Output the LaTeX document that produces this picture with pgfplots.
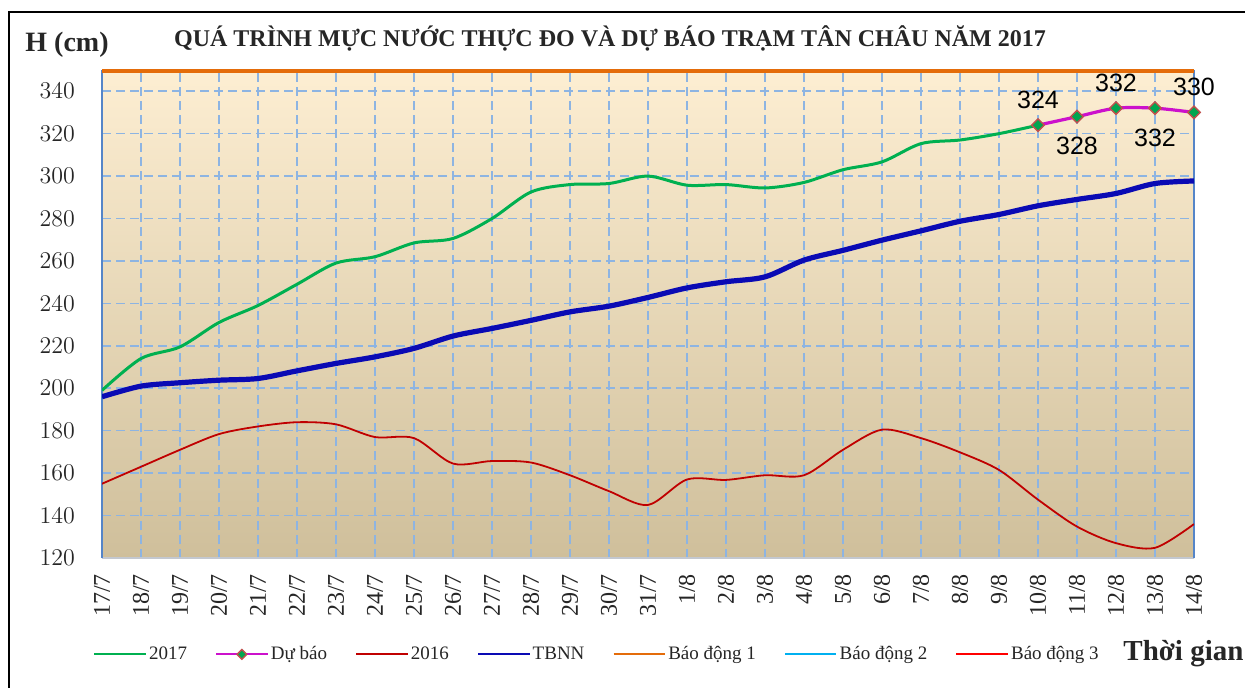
\documentclass[border=0pt]{standalone}
\usepackage{pgfplots}
\pgfplotsset{compat=1.18}
\usepackage{pgfplotstable}
\usepackage{fontspec}
\setmainfont{Liberation Serif}
\newfontfamily\arial{Liberation Sans}
\definecolor{cgreen}{HTML}{00B050}
\definecolor{cmag}{HTML}{CC11CC}
\definecolor{cmkfill}{HTML}{00A650}
\definecolor{cmkdraw}{HTML}{C0504D}
\definecolor{cred}{HTML}{C00000}
\definecolor{cblue}{HTML}{0A0AB4}
\definecolor{corange}{HTML}{E46C0A}
\definecolor{cbd2}{HTML}{00B0F0}
\definecolor{cbd3}{HTML}{FF0000}
\definecolor{cgrid}{HTML}{8DB4E2}
\definecolor{cyax}{HTML}{5585C8}
\definecolor{cxax}{HTML}{C3C8D0}
\definecolor{bgtop}{HTML}{FDEED2}
\definecolor{bgmid}{HTML}{F0E9D5}
\definecolor{bgbot}{HTML}{CFBF9B}

\pgfplotstableread{
x y
0 199
1 214
2 219.5
3 231
4 239
5 249
6 259
7 262
8 268.5
9 270.6
10 280
11 292.5
12 296
13 296.5
14 300
15 295.7
16 296
17 294.4
18 297
19 303
20 306.7
21 315.3
22 317
23 320
24 324
}\greentab

\pgfplotstableread{
x y
24 324
25 328
26 332
27 332
28 330
}\fctab

\pgfplotstableread{
x y
0 155
1 163
2 171
3 178.4
4 182
5 184
6 183
7 177
8 176.5
9 164.5
10 165.7
11 165
12 159
13 151.5
14 145
15 157
16 156.8
17 159
18 159
19 171
20 180.5
21 176.5
22 169.8
23 161.5
24 147.5
25 134.8
26 127
27 124.8
28 136
}\redtab

\pgfplotstableread{
x y
0 196
1 201
2 202.6
3 203.8
4 204.6
5 208.2
6 211.7
7 214.8
8 218.8
9 224.6
10 228.2
11 232
12 236
13 238.7
14 242.8
15 247.3
16 250.2
17 252.5
18 260.4
19 265
20 269.8
21 274.2
22 278.7
23 281.9
24 286
25 289
26 291.8
27 296.5
28 297.7
}\bluetab

\pgfplotstableread{
x y
0 350
28 350
}\bdtab

\begin{document}
\begin{tikzpicture}
\begin{scope}[x=0.5pt,y=-0.5pt]
\path[use as bounding box] (0,0) rectangle (1245,688);
\draw[line width=1pt, black] (9,688) -- (9,12) -- (1245,12);
\node[anchor=base west, font=\bfseries\fontsize{14}{16}\selectfont, text=black!85, inner sep=0pt] at (25,52) {H (cm)};
\node[anchor=base, font=\bfseries\fontsize{12}{14}\selectfont, text=black!85, inner sep=0pt] at (610,47) {QUÁ TRÌNH MỰC NƯỚC THỰC ĐO VÀ DỰ BÁO TRẠM TÂN CHÂU NĂM 2017};
\node[anchor=base west, font=\bfseries\fontsize{14.5}{16}\selectfont, text=black!85, inner sep=0pt] at (1123,660) {Thời gian};
\end{scope}
\begin{axis}[
  at={(51pt,-279pt)}, anchor=south west,
  scale only axis, width=546pt, height=244pt,
  xmin=0, xmax=28, ymin=120, ymax=350,
  xtick={0,...,28},
  xticklabels={17/7,18/7,19/7,20/7,21/7,22/7,23/7,24/7,25/7,26/7,27/7,28/7,29/7,30/7,31/7,1/8,2/8,3/8,4/8,5/8,6/8,7/8,8/8,9/8,10/8,11/8,12/8,13/8,14/8},
  ytick={120,140,...,340},
  major tick length=0pt,
  grid=major,
  major grid style={cgrid, line width=0.8pt, dash pattern=on 4.5pt off 2.5pt},
  separate axis lines,
  x axis line style={cxax, line width=0.8pt},
  y axis line style={cyax, line width=0.8pt},
  axis background/.style={shade, top color=bgtop, middle color=bgmid, bottom color=bgbot},
  tick label style={text=black!85},
  yticklabel style={font=\fontsize{11.5}{13}\selectfont, xshift=-10pt},
  xticklabel style={font=\fontsize{12}{14}\selectfont, yshift=-4.5pt, rotate=90, anchor=east},
  clip mode=individual,
  legend columns=7,
  legend style={at={(-0.0082,-0.1975)}, anchor=west, draw=none, fill=none, inner sep=0pt,
    font=\fontsize{9.5}{11}\selectfont, text=black!85,
    nodes={inner sep=1.2pt}, cells={anchor=west},
    /tikz/every even column/.append style={column sep=12.9pt}},
  legend image code/.code={\draw[mark repeat=2,mark phase=2,#1] plot coordinates {(0cm,0cm) (0.45cm,0cm) (0.9cm,0cm)};},
  legend image post style={line width=1pt, mark size=1.7pt},
]
\addplot[cgreen, line width=1.5pt, smooth] table[x=x,y=y] {\greentab};
\addlegendentry{2017}
\addplot[cmag, line width=1.6pt, smooth, mark=square*, mark size=2.2pt,
  mark options={fill=cmkfill, draw=cmkdraw, line width=0.7pt, rotate=45}]
  table[x=x,y=y] {\fctab};
\addlegendentry{Dự báo}
\addplot[cred, line width=0.9pt, smooth] table[x=x,y=y] {\redtab};
\addlegendentry{2016}
\addplot[cblue, line width=2.6pt, smooth] table[x=x,y=y] {\bluetab};
\addlegendentry{TBNN}
\addplot[corange, line width=3.4pt] table[x=x,y=y] {\bdtab};
\addlegendentry{Báo động 1}
\addlegendimage{cbd2, line width=1pt}
\addlegendentry{Báo động 2}
\addlegendimage{cbd3, line width=1pt}
\addlegendentry{Báo động 3}
\addplot[draw=none, mark=none, forget plot, point meta=explicit symbolic, nodes near coords,
  every node near coord/.append style={anchor=south, inner sep=8pt, font=\arial\fontsize{12.5}{14}\selectfont, text=black}]
  coordinates {(24,324) [324] (26,332) [332] (28,330) [330]};
\addplot[draw=none, mark=none, forget plot, point meta=explicit symbolic, nodes near coords,
  every node near coord/.append style={anchor=north, inner sep=10pt, font=\arial\fontsize{12.5}{14}\selectfont, text=black}]
  coordinates {(25,328) [328] (27,332) [332]};
\end{axis}
\end{tikzpicture}
\end{document}
